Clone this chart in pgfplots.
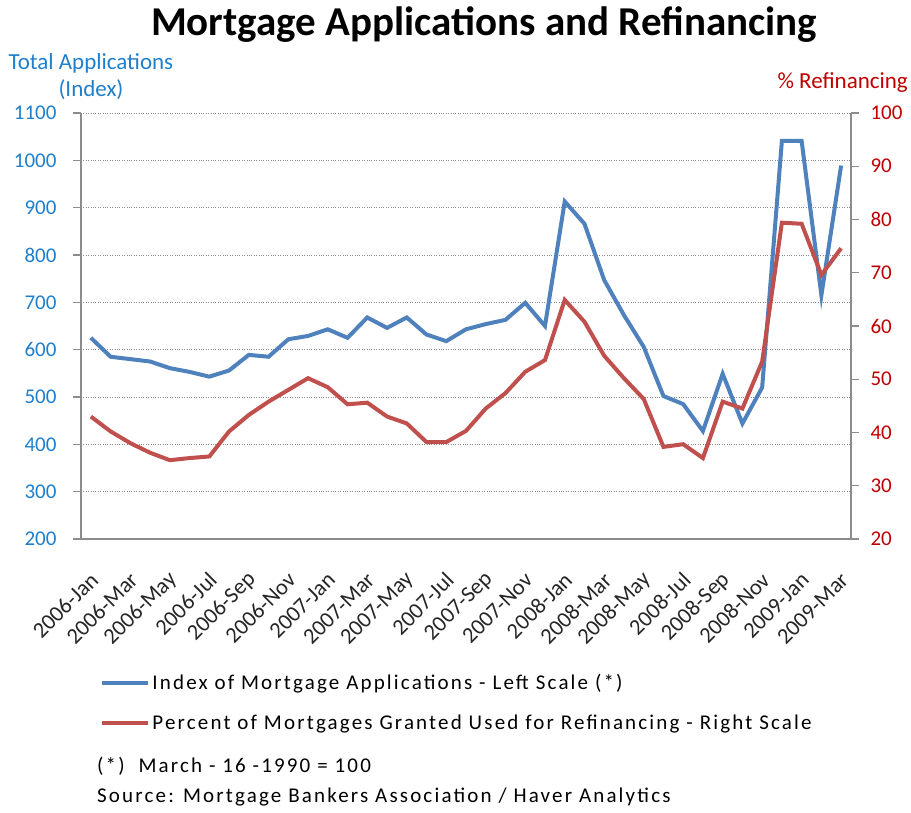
\documentclass[border=0pt]{standalone}
\usepackage{fontspec}
\setmainfont{Carlito}
\newfontfamily\spaced[LetterSpace=10.3]{Carlito}
\usepackage{pgfplots}
\pgfplotsset{compat=1.18}
\definecolor{ablue}{HTML}{4F81BD}
\definecolor{ared}{HTML}{C0504D}
\definecolor{lblue}{HTML}{1F7FCC}
\definecolor{lred}{HTML}{C00000}
\definecolor{axgray}{HTML}{8C8C8C}

\pgfplotstableread{
idx apps refi
0 625 43.0
1 585 40.2
2 580 38.0
3 575 36.2
4 561 34.8
5 553 35.2
6 543 35.5
7 556 40.2
8 589 43.3
9 585 45.8
10 622 48.0
11 629 50.2
12 643 48.5
13 625 45.3
14 668 45.6
15 646 43.0
16 668 41.7
17 632 38.2
18 618 38.2
19 643 40.3
20 654 44.5
21 663 47.4
22 699 51.4
23 650 53.6
24 913 64.9
25 866 60.8
26 747 54.4
27 673 50.2
28 606 46.3
29 502 37.3
30 485 37.8
31 428 35.2
32 549 45.8
33 444 44.5
34 520 53.3
35 1041 79.4
36 1041 79.2
37 715 69.6
38 989 74.6
}\datatable

\begin{document}
\begin{tikzpicture}[x=1pt,y=1pt]
\useasboundingbox (0,0) rectangle (911,812);
\begin{axis}[
  at={(81pt,273pt)}, anchor=south west, width=770pt, height=426pt, scale only axis,
  xmin=-0.5, xmax=38.5, ymin=200, ymax=1100,
  axis x line*=bottom, axis y line*=left,
  axis line style={axgray, line width=1.6pt, -},
  xtick={0,2,...,38},
  xticklabels={2006-Jan,2006-Mar,2006-May,2006-Jul,2006-Sep,2006-Nov,2007-Jan,2007-Mar,2007-May,2007-Jul,2007-Sep,2007-Nov,2008-Jan,2008-Mar,2008-May,2008-Jul,2008-Sep,2008-Nov,2009-Jan,2009-Mar},
  x tick style={draw=none},
  minor xtick={-0.5,0.5,...,38.5},
  minor tick length=8pt,
  xticklabel style={xshift=6pt, yshift=-27pt, rotate=45, anchor=east, font=\fontsize{22.5}{26}\selectfont, text=black!85},
  ytick={200,300,...,1100},
  yticklabel style={font=\fontsize{21}{24}\selectfont, text=lblue, xshift=-13pt},
  /pgf/number format/assume math mode=true,
  /pgf/number format/1000 sep={},
  ymajorgrids, grid style={axgray, dotted, line width=1pt},
  y tick style={axgray, line width=1.4pt},
  minor x tick style={axgray, line width=1.4pt},
  major tick length=8pt,
  tick align=outside,
  clip=false,
]
\addplot[ablue, line width=4pt] table[x=idx, y=apps] {\datatable};
\end{axis}
\begin{axis}[
  at={(81pt,273pt)}, anchor=south west, width=770pt, height=426pt, scale only axis,
  xmin=-0.5, xmax=38.5, ymin=20, ymax=100,
  axis x line=none, axis y line*=right,
  axis line style={axgray, line width=1.6pt, -},
  ytick={20,30,...,100},
  yticklabel style={font=\fontsize{21}{24}\selectfont, text=lred, xshift=8pt},
  /pgf/number format/assume math mode=true,
  tick style={axgray, line width=1.4pt},
  major tick length=8pt,
  tick align=outside,
  clip=false,
  legend style={at={(0.025,-0.313)}, anchor=north west, draw=none, fill=none,
    font=\spaced\fontsize{21}{24}\selectfont, row sep=20pt, inner sep=0pt},
  legend cell align=left,
  legend image code/.code={\draw[#1] (0pt,0pt) -- (46pt,0pt);},
]
\addlegendimage{ablue, line width=4pt}
\addlegendentry{Index of Mortgage Applications - Left Scale (*)}
\addplot[ared, line width=4pt] table[x=idx, y=refi] {\datatable};
\addlegendentry{Percent of Mortgages Granted Used for Refinancing - Right Scale}
\end{axis}
\node[anchor=base, font=\bfseries\fontsize{41}{48}\selectfont] at (484,776) {Mortgage Applications and Refinancing};
\node[anchor=base, font=\fontsize{23}{26}\selectfont, text=lblue] at (91,742) {Total Applications};
\node[anchor=base, font=\fontsize{23}{26}\selectfont, text=lblue] at (91,715) {(Index)};
\node[anchor=base east, font=\fontsize{23}{26}\selectfont, text=lred, inner sep=0pt] at (908,723) {\% Refinancing};
\node[anchor=base west, font=\spaced\fontsize{21}{24}\selectfont, inner sep=0pt] at (97,40) {(*)\ \ March - 16 -1990 = 100};
\node[anchor=base west, font=\spaced\fontsize{21}{24}\selectfont, inner sep=0pt] at (97,10) {Source: Mortgage Bankers Association / Haver Analytics};
\end{tikzpicture}
\end{document}
